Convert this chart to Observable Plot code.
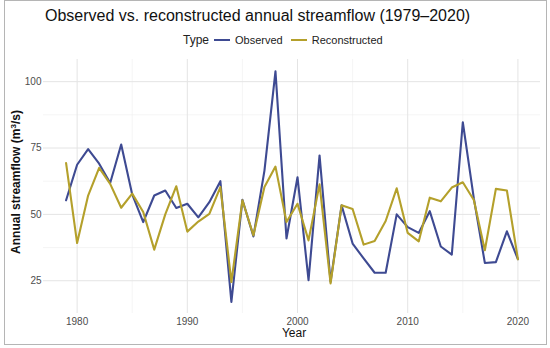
<!DOCTYPE html>
<html><head><meta charset="utf-8">
<script src="https://cdn.jsdelivr.net/npm/d3@7"></script>
<script src="https://cdn.jsdelivr.net/npm/@observablehq/plot@0.6"></script>
<style>
body{margin:0;background:#fff;font-family:"Liberation Sans",Arial,Helvetica,sans-serif;}
#wrap{position:relative;width:550px;height:348px;overflow:hidden;background:#fff;}
#frame{position:absolute;left:4px;top:0;width:543px;height:345px;border:1px solid #b5b5b5;box-sizing:border-box;}
#title{position:absolute;left:45px;top:6px;font-size:16px;line-height:20px;color:#111;white-space:nowrap;}
#legend{position:absolute;left:183px;top:31px;height:18px;display:flex;align-items:center;white-space:nowrap;color:#222;}
#legend .lab{font-size:11px;}
#legend .sw{display:inline-block;width:16px;height:2px;}
#chart{position:absolute;left:0;top:50px;}
#xlab{position:absolute;left:0;width:588px;text-align:center;top:326px;font-size:12px;line-height:14px;color:#111;}
#ylab{position:absolute;left:16px;top:182px;transform:translate(-50%,-50%) rotate(-90deg);font-size:12px;font-weight:bold;white-space:nowrap;color:#111;line-height:14px;}
</style>
</head><body>
<div id="wrap">
  <div id="frame"></div>
  <div id="title">Observed vs. reconstructed annual streamflow (1979–2020)</div>
  <div id="legend"></div>
  <div id="chart"></div>
  <div id="xlab">Year</div>
  <div id="ylab">Annual streamflow (m<sup style="font-size:8px;vertical-align:4px;line-height:0">3</sup>/s)</div>
</div>
<script>
const years = [1979,1980,1981,1982,1983,1984,1985,1986,1987,1988,1989,1990,1991,1992,1993,1994,1995,1996,1997,1998,1999,2000,2001,2002,2003,2004,2005,2006,2007,2008,2009,2010,2011,2012,2013,2014,2015,2016,2017,2018,2019,2020];
const observed = [55.3,68.7,74.6,69.1,61.8,76.3,57.5,47.1,57.1,59.0,52.4,54.0,48.9,54.6,62.5,17.0,55.5,41.7,66.5,103.9,40.9,64.0,25.2,72.2,24.6,53.4,39.0,33.4,28.0,28.0,50.0,45.2,43.0,51.2,37.9,34.8,84.7,56.0,31.7,32.0,43.6,33.1];
const reconstructed = [69.3,39.2,57.1,67.5,61.5,52.5,57.8,50.9,36.7,50.0,60.6,43.5,47.3,50.2,60.3,24.5,55.3,42.1,60.3,68.0,47.1,54.0,40.2,61.3,24.0,53.4,52.0,38.6,40.0,47.5,59.8,43.0,39.8,56.3,54.9,60.1,62.1,55.4,36.5,59.6,59.0,33.1];
const types = ["Observed","Reconstructed"];
const colors = ["#3E4A92","#B4A02B"];
const xTicks = [1980,1990,2000,2010,2020];
const xMinor = [1985,1995,2005,2015];
const yTicks = [25,50,75,100];
const yMinor = [37.5,62.5,87.5];

const rows = years.flatMap((yr,i)=>[
  {year:yr, type:types[0], value:observed[i]},
  {year:yr, type:types[1], value:reconstructed[i]}
]);

const chart = Plot.plot({
  width: 550, height: 298,
  marginLeft: 43, marginRight: 10, marginTop: 9, marginBottom: 35,
  x: {domain:[1976.95, 2022.05], label:null},
  y: {domain:[12.65, 108.35], label:null},
  color: {domain: types, range: colors},
  style: {fontFamily:"Liberation Sans, Arial, sans-serif", fontSize:"10px", color:"#4d4d4d", background:"transparent", overflow:"visible"},
  marks: [
    Plot.gridX(xMinor, {stroke:"#efefef", strokeOpacity:1, strokeWidth:0.6}),
    Plot.gridY(yMinor, {stroke:"#efefef", strokeOpacity:1, strokeWidth:0.6}),
    Plot.gridX(xTicks, {stroke:"#e4e4e4", strokeOpacity:1, strokeWidth:1}),
    Plot.gridY(yTicks, {stroke:"#e4e4e4", strokeOpacity:1, strokeWidth:1}),
    Plot.axisX(xTicks, {tickSize:0, tickPadding:4, tickFormat:d=>String(d), label:null, fill:"#4d4d4d"}),
    Plot.axisY(yTicks, {tickSize:0, tickPadding:2, label:null, fill:"#4d4d4d"}),
    Plot.line(rows, {x:"year", y:"value", stroke:"type", z:"type", strokeWidth:2.1, strokeLinejoin:"round"})
  ]
});
document.getElementById("chart").appendChild(chart);

const leg = document.getElementById("legend");
leg.innerHTML = '<span style="font-size:12px;margin-right:5px">Type</span>' +
  types.map((t,i)=>`<span class="sw" style="background:${colors[i]}"></span><span class="lab" style="margin-left:5px;margin-right:${i===0?8:0}px">${t}</span>`).join("");
</script>
</body></html>
